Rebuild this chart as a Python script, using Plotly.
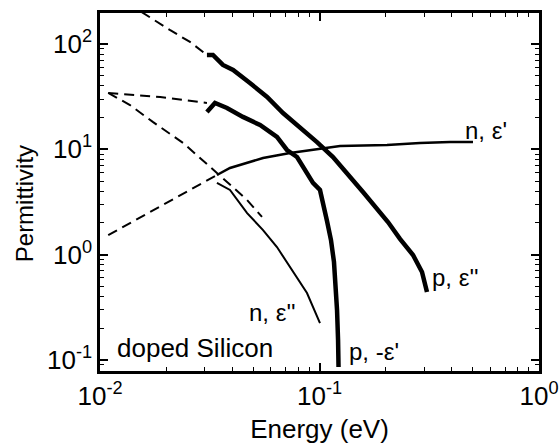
import math
import plotly.graph_objects as go

# ---- data ----
p_epp_x = [0.0307, 0.0327, 0.0363, 0.0404, 0.0482, 0.0577, 0.0682, 0.0815, 0.0974, 0.1152,
           0.1240, 0.1578, 0.2051, 0.2326, 0.2667, 0.2931, 0.3088]
p_epp_y = [78.6, 78.6, 63.2, 56.6, 42.6, 31.4, 22.1, 16.3, 11.7, 8.45,
           7.10, 3.93, 2.04, 1.41, 0.991, 0.684, 0.441]

p_neg_eps_x = [0.0307, 0.0334, 0.0379, 0.0448, 0.0536, 0.0640, 0.0711, 0.0790, 0.0934, 0.1005,
               0.1082, 0.1128, 0.1164, 0.1189, 0.1202, 0.1215, 0.1221]
p_neg_eps_y = [22.6, 27.5, 24.7, 20.3, 17.0, 13.1, 9.85, 8.45, 4.79, 4.11,
               2.08, 1.376, 0.850, 0.461, 0.298, 0.1545, 0.0856]

n_eps_x = [0.0341, 0.0391, 0.0553, 0.0734, 0.1240, 0.2030, 0.2870, 0.393, 0.5003]
n_eps_y = [5.70, 6.64, 8.27, 9.22, 10.75, 10.98, 11.48, 11.73, 11.73]

n_epp_x = [0.0341, 0.0391, 0.0468, 0.0553, 0.0640, 0.0734, 0.0877, 0.1005]
n_epp_y = [4.79, 4.11, 2.48, 1.71, 1.18, 0.762, 0.432, 0.224]

# model (dashed) extrapolations
d_p_epp_x = [0.0117, 0.0157, 0.0208, 0.0257, 0.0307]
d_p_epp_y = [299, 197, 136, 104.5, 78.6]
d_p_eps_x = [0.0109, 0.0188, 0.0307]
d_p_eps_y = [34.3, 31.4, 27.5]
d_n_epp_x = [0.0109, 0.0137, 0.0174, 0.0239, 0.0341, 0.0468, 0.0547]
d_n_epp_y = [34.3, 26.3, 18.2, 11.5, 5.96, 3.30, 2.28]
d_n_eps_x = [0.0109, 0.0341]
d_n_eps_y = [1.53, 5.70]

x_tickvals = [0.01, 0.1, 1]
x_ticktext = ["10<sup>-2</sup>", "10<sup>-1</sup>", "10<sup>0</sup>"]
y_tickvals = [0.1, 1, 10, 100]
y_ticktext = ["10<sup>-1</sup>", "10<sup>0</sup>", "10<sup>1</sup>", "10<sup>2</sup>"]
minor_vals = [m * 10.0 ** e for e in (-2, -1, 0, 1, 2) for m in range(2, 10)]

# curve labels: text, left x, middle y (data units), font size
labels = [
    ("n, ε'", 0.4506, 14.92, 24),
    ("p, ε''", 0.3186, 0.6127, 24),
    ("p, -ε'", 0.1335, 0.1215, 24),
    ("n, ε''", 0.04674, 0.2851, 24),
    ("doped Silicon", 0.0117, 0.1297, 26),
]

FONT = "Liberation Sans, Arial, sans-serif"

fig = go.Figure()
dash_style = dict(color="black", width=2, dash="10px,6px")
for xs, ys in [(d_p_epp_x, d_p_epp_y), (d_p_eps_x, d_p_eps_y),
               (d_n_epp_x, d_n_epp_y), (d_n_eps_x, d_n_eps_y)]:
    fig.add_trace(go.Scatter(x=xs, y=ys, mode="lines", line=dash_style,
                             showlegend=False, hoverinfo="skip"))

fig.add_trace(go.Scatter(x=p_epp_x, y=p_epp_y, mode="lines",
                         line=dict(color="black", width=4.5), showlegend=False))
fig.add_trace(go.Scatter(x=p_neg_eps_x, y=p_neg_eps_y, mode="lines",
                         line=dict(color="black", width=4.5), showlegend=False))
fig.add_trace(go.Scatter(x=n_eps_x, y=n_eps_y, mode="lines",
                         line=dict(color="black", width=2.5), showlegend=False))
fig.add_trace(go.Scatter(x=n_epp_x, y=n_epp_y, mode="lines",
                         line=dict(color="black", width=2), showlegend=False))

for text, x, y, size in labels:
    fig.add_annotation(x=math.log10(x), y=math.log10(y), xref="x", yref="y", text=text,
                       showarrow=False, xanchor="left", yanchor="middle",
                       font=dict(family=FONT, size=size, color="black"))

# y-axis title (placed as in the reference, slightly below the axis centre)
fig.add_annotation(x=-0.173, y=0.466, xref="paper", yref="paper", text="Permittivity",
                   textangle=-90, showarrow=False, xanchor="center", yanchor="middle",
                   font=dict(family=FONT, size=24, color="black"))

axis_common = dict(
    type="log", showgrid=False, zeroline=False, showline=True, linecolor="black",
    linewidth=2.5, mirror="allticks", ticks="inside", ticklen=8, tickwidth=1.5,
    tickcolor="black", tickfont=dict(family=FONT, size=26, color="black"),
    tickmode="array",
    minor=dict(ticks="inside", ticklen=4, tickwidth=1.2, tickcolor="black",
               tickmode="array", tickvals=minor_vals, showgrid=False),
)

fig.update_xaxes(**axis_common, range=[-2, 0], tickvals=x_tickvals, ticktext=x_ticktext,
                 automargin=False,
                 title=dict(text="Energy (eV)", font=dict(family=FONT, size=26, color="black"),
                            standoff=10))
fig.update_yaxes(**axis_common, range=[-1.105, 2.294], tickvals=y_tickvals, ticktext=y_ticktext,
                 automargin=False)

fig.update_layout(
    width=559, height=444,
    margin=dict(l=100, r=20, t=13, b=73),
    paper_bgcolor="white", plot_bgcolor="white",
    font=dict(family=FONT, color="black"),
)

fig.write_html("out.html", config={"displayModeBar": False})

# remove the browser's default page margin so the figure sits at the window's corner
with open("out.html", encoding="utf-8") as f:
    html = f.read()
html = html.replace("<head>", "<head><style>html,body{margin:0;padding:0;overflow:hidden}</style>", 1)
with open("out.html", "w", encoding="utf-8") as f:
    f.write(html)
